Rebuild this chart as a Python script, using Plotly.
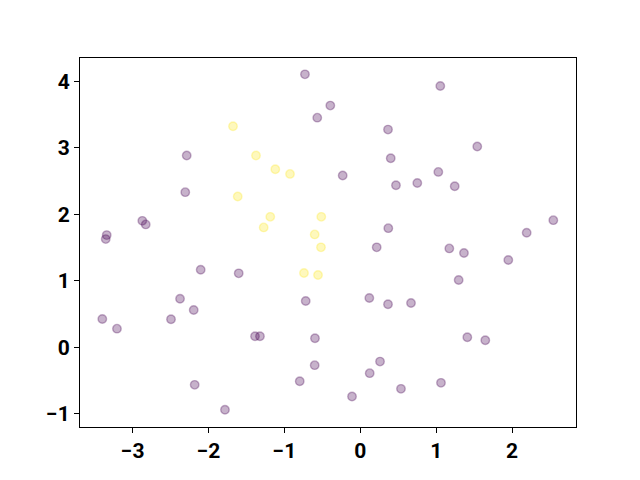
import plotly.graph_objects as go

purple_x = [-0.729, -0.395, -0.567, -2.287, -2.306, -2.872, -2.827, -3.341, -3.354, 1.054,
            0.365, 1.541, 0.401, -0.232, 1.028, 0.470, 0.751, 1.244, 0.369, 2.192,
            2.543, 0.216, 1.173, 1.366, 1.950, 1.296, -2.103, -1.602, -2.375, -0.719,
            -2.195, -3.399, -2.494, -3.206, -1.387, -1.322, -0.597, -0.601, -0.798, -2.182,
            -1.783, 0.119, 0.365, 0.668, 1.410, 1.647, 0.260, 0.124, 0.536, 1.063, -0.109]
purple_y = [4.104, 3.634, 3.453, 2.883, 2.332, 1.901, 1.847, 1.686, 1.626, 3.928,
            3.273, 3.018, 2.842, 2.583, 2.637, 2.437, 2.471, 2.422, 1.791, 1.721,
            1.911, 1.502, 1.486, 1.416, 1.311, 1.011, 1.165, 1.111, 0.730, 0.695,
            0.560, 0.425, 0.420, 0.279, 0.165, 0.165, 0.135, -0.270, -0.511, -0.566,
            -0.941, 0.740, 0.646, 0.665, 0.150, 0.105, -0.216, -0.390, -0.626, -0.536, -0.742]

yellow_x = [-1.677, -1.374, -1.120, -0.926, -1.615, -1.186, -0.514, -1.273, -0.601, -0.518, -0.742, -0.557]
yellow_y = [3.323, 2.883, 2.677, 2.607, 2.267, 1.961, 1.961, 1.802, 1.697, 1.502, 1.116, 1.086]

x_ticks = [-3, -2, -1, 0, 1, 2]
y_ticks = [-1, 0, 1, 2, 3, 4]

PURPLE = "rgba(68,1,84,0.3)"
YELLOW = "rgba(253,231,37,0.3)"

fig = go.Figure()
for xs, ys, c in [(purple_x, purple_y, PURPLE), (yellow_x, yellow_y, YELLOW)]:
    fig.add_trace(go.Scatter(
        x=xs, y=ys, mode="markers",
        marker=dict(size=8.5, color=c, line=dict(color=c, width=1.4)),
        showlegend=False, hoverinfo="skip",
    ))

axis_common = dict(
    showgrid=False, zeroline=False, showline=True, linecolor="black", linewidth=1.1,
    mirror=True, ticks="outside", ticklen=5, tickwidth=1.1, tickcolor="black",
    automargin=False,
    tickfont=dict(family="Roboto", size=21, color="black", weight="bold"),
)
fig.update_xaxes(range=[-3.693, 2.842], tickvals=x_ticks,
                 ticktext=["\u22123", "\u22122", "\u22121", "0", "1", "2"], **axis_common)
fig.update_yaxes(range=[-1.2, 4.35], tickvals=y_ticks,
                 ticktext=["\u22121", "0", "1", "2", "3", "4"], **axis_common)

fig.update_layout(
    width=640, height=480,
    margin=dict(l=80, r=64, t=57.6, b=52.8, pad=0, autoexpand=False),
    paper_bgcolor="white", plot_bgcolor="white",
)
fig.write_html("out.html", config={"displayModeBar": False},
               post_script="document.body.style.margin='0px';")
